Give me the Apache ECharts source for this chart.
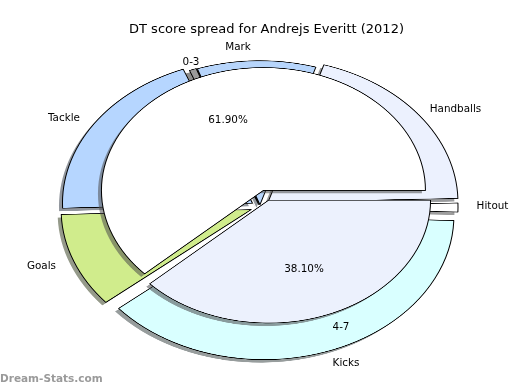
<!DOCTYPE html>
<html>
<head>
<meta charset="utf-8">
<script src="https://cdn.jsdelivr.net/npm/echarts@6/dist/echarts.min.js"></script>
<style>
  html, body { margin: 0; padding: 0; background: #ffffff; }
  #wrap { position: relative; width: 520px; height: 390px; overflow: hidden; background: #ffffff; }
  #pie { position: absolute; left: 0; top: 0; width: 520px; transform-origin: 0 0; }
  #txt { position: absolute; left: 0; top: 0; width: 520px; height: 390px; }
</style>
</head>
<body>
<div id="wrap"><div id="pie"></div><div id="txt"></div></div>
<script>
// ---------- data ----------
const titleText = 'DT score spread for Andrejs Everitt (2012)';
const outerNames  = ['Handballs', 'Mark', 'Other', 'Tackle', 'Goals', 'Kicks', 'Hitout'];
const outerValues = [19.8, 10.1, 0.6, 19.6, 10.6, 38.3, 1.0];
const outerLabels = ['Handballs', 'Mark', '', 'Tackle', 'Goals', 'Kicks', 'Hitout'];
const innerNames  = ['0-3', '4-7'];
const innerValues = [61.9, 38.1];
const innerPctLabels = ['61.90%', '38.10%'];
const watermark = 'Dream-Stats.com';

// ---------- styles / layout ----------
const outerColors  = ['#ecf1fe', '#b7d5fb', '#9a9a9a', '#b6d6ff', '#d0ec8c', '#d9ffff', '#ffffff'];
const outerExplode = [10, 3, 3.5, 9, 9.5, 12, 8];
const innerColors  = ['#ffffff', '#ecf1fd'];
const innerExplode = [7, 7];

const S = 0.758;                 // vertical squash of the pies
const OUTER_C = [260, 207], OUTER_R = 190, OUTER_START = 1.6;
const INNER_C = [266, 195.3], INNER_R = 162, INNER_START = 0;
const SHADOW_DX = -3.5, SHADOW_DY = 3;   // screen px

// label anchor positions (screen px, centre of text)
const outerLabelPos = [[455.5, 109], [238, 47], null, [64, 118], [41.5, 266], [346, 363], [492.5, 206]];
const innerLabelPos = [[191, 62], [341, 327]];
const innerPctPos   = [[228, 120], [304, 269]];

const FONT = 'DejaVu Sans';

function shadowOf(hex) {
  const r = parseInt(hex.slice(1, 3), 16), g = parseInt(hex.slice(3, 5), 16), b = parseInt(hex.slice(5, 7), 16);
  return 'rgba(' + Math.round(r * 0.3) + ',' + Math.round(g * 0.3) + ',' + Math.round(b * 0.3) + ',0.55)';
}

function pieSeries(names, values, colors, explode, center, radius, start, offset, shadow) {
  const cx = center[0] + (shadow ? SHADOW_DX : 0);
  const cy = (center[1] + (shadow ? SHADOW_DY : 0)) / S;
  return {
    type: 'pie',
    center: [cx, cy],
    radius: [0, radius],
    startAngle: start,
    clockwise: false,
    minAngle: 0,
    selectedMode: 'multiple',
    selectedOffset: offset,
    silent: true,
    animation: false,
    label: { show: false },
    labelLine: { show: false },
    emphasis: { disabled: true },
    data: names.map(function (n, i) {
      const on = explode[i] === offset;
      let st;
      if (!on) st = { color: 'rgba(0,0,0,0)', borderWidth: 0 };
      else if (shadow) st = { color: shadowOf(colors[i]), borderWidth: 0 };
      else st = { color: colors[i], borderColor: '#000000', borderWidth: 1 };
      return { name: n, value: values[i], selected: on, itemStyle: st, select: { itemStyle: st } };
    })
  };
}

function buildPie(names, values, colors, explode, center, radius, start, out) {
  const offs = Array.from(new Set(explode));
  offs.forEach(function (off) { out.push(pieSeries(names, values, colors, explode, center, radius, start, off, true)); });
  offs.forEach(function (off) { out.push(pieSeries(names, values, colors, explode, center, radius, start, off, false)); });
}

const series = [];
buildPie(outerNames, outerValues, outerColors, outerExplode, OUTER_C, OUTER_R, OUTER_START, series);
buildPie(innerNames, innerValues, innerColors, innerExplode, INNER_C, INNER_R, INNER_START, series);

const pieDom = document.getElementById('pie');
pieDom.style.height = (390 / S) + 'px';
pieDom.style.transform = 'scaleY(' + S + ')';
const pie = echarts.init(pieDom, null, { renderer: 'canvas', devicePixelRatio: 2 });
pie.setOption({ animation: false, series: series });

// ---------- text overlay ----------
function txt(text, pos, size, color, weight) {
  return {
    type: 'text', x: pos[0], y: pos[1], silent: true,
    style: { text: text, fontFamily: FONT, fontSize: size, fill: color || '#000000', fontWeight: weight || 'normal',
             align: 'center', verticalAlign: 'middle' }
  };
}
const graphics = [txt(titleText, [266.5, 30], 13, '#000000')];
outerLabels.forEach(function (t, i) { if (t && outerLabelPos[i]) graphics.push(txt(t, outerLabelPos[i], 10.4)); });
innerNames.forEach(function (t, i) { graphics.push(txt(t, innerLabelPos[i], 10.4)); });
innerPctLabels.forEach(function (t, i) { graphics.push(txt(t, innerPctPos[i], 10.4)); });
graphics.push({
  type: 'text', x: 0, y: 379, silent: true,
  style: { text: watermark, fontFamily: FONT, fontSize: 10.5, fontWeight: 'bold', fill: '#9a9a9a', align: 'left', verticalAlign: 'middle' }
});

const tc = echarts.init(document.getElementById('txt'), null, { renderer: 'canvas' });
tc.setOption({ animation: false, graphic: graphics });
</script>
</body>
</html>
